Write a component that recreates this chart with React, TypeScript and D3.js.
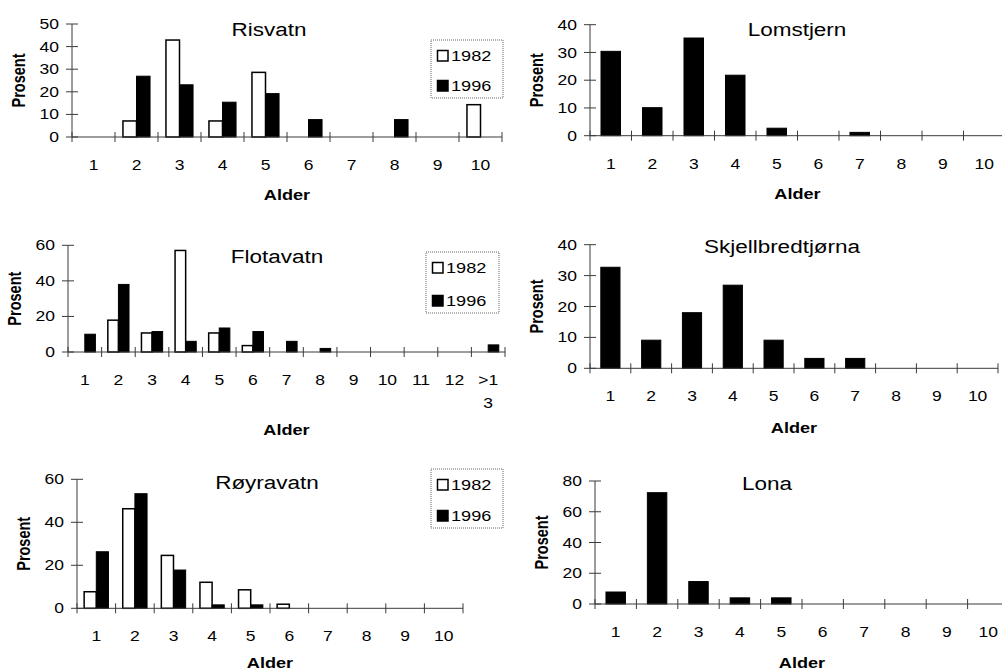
import React from "react";
import * as d3 from "d3";

// ---------- data ----------
const agesRisvatn = ["1", "2", "3", "4", "5", "6", "7", "8", "9", "10"];
const risvatn1982 = [0, 7.1, 42.9, 7.1, 28.6, 0, 0, 0, 0, 14.3];
const risvatn1996 = [0, 26.9, 23.1, 15.4, 19.2, 7.7, 0, 7.7, 0, 0];

const agesLomstjern = ["1", "2", "3", "4", "5", "6", "7", "8", "9", "10"];
const lomstjern = [30.4, 10.1, 35.2, 21.8, 2.7, 0, 1.2, 0, 0, 0];

const agesFlotavatn = ["1", "2", "3", "4", "5", "6", "7", "8", "9", "10", "11", "12", ">1|3"];
const flotavatn1982 = [0, 17.9, 10.7, 57.1, 10.7, 3.6, 0, 0, 0, 0, 0, 0, 0];
const flotavatn1996 = [10, 38, 11.5, 6, 13.5, 11.5, 6, 2, 0, 0, 0, 0, 4];

const agesSkjell = ["1", "2", "3", "4", "5", "6", "7", "8", "9", "10"];
const skjellbredtjorna = [32.7, 9.1, 18, 26.9, 9.1, 3.2, 3.2, 0, 0, 0];

const agesRoyra = ["1", "2", "3", "4", "5", "6", "7", "8", "9", "10"];
const royravatn1982 = [7.7, 46.3, 24.6, 12.1, 8.6, 1.9, 0, 0, 0, 0];
const royravatn1996 = [26.3, 53.3, 17.8, 1.6, 1.6, 0, 0, 0, 0, 0];

const agesLona = ["1", "2", "3", "4", "5", "6", "7", "8", "9", "10"];
const lona = [7.8, 72.4, 14.6, 4, 4, 0, 0, 0, 0, 0];

const yTicks50 = [0, 10, 20, 30, 40, 50];
const yTicks40 = [0, 10, 20, 30, 40];
const yTicks60 = [0, 20, 40, 60];
const yTicks80 = [0, 20, 40, 60, 80];

const seriesNames = ["1982", "1996"];

// ---------- layout ----------
type Panel = {
  title: string;
  cats: string[];
  s1982: number[] | null;
  s1996: number[];
  ticks: number[];
  x0: number; x1: number; yTop: number; yBot: number;
  titleX: number; titleY: number;
  alderY: number;
  legend: { x: number; y: number; w: number; h: number } | null;
};

const panels: Panel[] = [
  { title: "Risvatn", cats: agesRisvatn, s1982: risvatn1982, s1996: risvatn1996, ticks: yTicks50,
    x0: 72, x1: 502, yTop: 24, yBot: 137, titleX: 269, titleY: 36, alderY: 200,
    legend: { x: 431, y: 40, w: 72, h: 58 } },
  { title: "Lomstjern", cats: agesLomstjern, s1982: null, s1996: lomstjern, ticks: yTicks40,
    x0: 590, x1: 1005, yTop: 24.7, yBot: 135.7, titleX: 797, titleY: 36, alderY: 199, legend: null },
  { title: "Flotavatn", cats: agesFlotavatn, s1982: flotavatn1982, s1996: flotavatn1996, ticks: yTicks60,
    x0: 68, x1: 505, yTop: 245.3, yBot: 352, titleX: 277, titleY: 263, alderY: 435,
    legend: { x: 426, y: 252, w: 73, h: 61 } },
  { title: "Skjellbredtjørna", cats: agesSkjell, s1982: null, s1996: skjellbredtjorna, ticks: yTicks40,
    x0: 590, x1: 998, yTop: 244.7, yBot: 368.3, titleX: 782, titleY: 253, alderY: 433, legend: null },
  { title: "Røyravatn", cats: agesRoyra, s1982: royravatn1982, s1996: royravatn1996, ticks: yTicks60,
    x0: 77, x1: 463, yTop: 479.3, yBot: 608.3, titleX: 267, titleY: 489, alderY: 668,
    legend: { x: 431, y: 469, w: 72, h: 59 } },
  { title: "Lona", cats: agesLona, s1982: null, s1996: lona, ticks: yTicks80,
    x0: 595, x1: 1009, yTop: 481, yBot: 604, titleX: 767, titleY: 490, alderY: 668, legend: null },
];

const FONT = "'Liberation Sans', Arial, Helvetica, sans-serif";
const SX = 1.25;

function T(props: { x: number; y: number; size: number; anchor?: string; bold?: boolean; rotate?: boolean; children: React.ReactNode; dy?: string }) {
  const { x, y, size, anchor = "middle", bold, rotate, children, dy } = props;
  const tf = rotate ? `translate(${x},${y}) rotate(-90) scale(1,${SX})` : `translate(${x},${y}) scale(${SX},1)`;
  return (
    <text transform={tf} fontSize={size} fontFamily={FONT} fontWeight={bold ? "bold" : "normal"}
      textAnchor={anchor} dy={dy} fill="#000">{children}</text>
  );
}

function Chart({ p }: { p: Panel }) {
  const x = d3.scaleBand<string>().domain(p.cats).range([p.x0, p.x1]).padding(0);
  const yMax = p.ticks[p.ticks.length - 1];
  const y = d3.scaleLinear().domain([0, yMax]).range([p.yBot, p.yTop]);
  const bw = x.bandwidth();
  const grouped = p.s1982 !== null;
  const groupW = bw * (grouped ? 0.63 : 0.47);
  const xs = d3.scaleBand<string>().domain(grouped ? seriesNames : ["1996"]).range([0, groupW]);
  const axisColor = "#3a3a3a";
  const boundaries = d3.range(p.cats.length + 1).map((i) => p.x0 + i * bw);

  const bars: React.ReactNode[] = [];
  p.cats.forEach((c, i) => {
    const gx = (x(c) as number) + (bw - groupW) / 2;
    const series: [string, number[] | null][] = [["1982", p.s1982], ["1996", p.s1996]];
    series.forEach(([name, arr]) => {
      if (!arr) return;
      const v = arr[i];
      if (!v) return;
      const bx = gx + (xs(name) as number);
      const white = name === "1982";
      bars.push(
        <rect key={name + c} x={bx} y={y(v)} width={xs.bandwidth()} height={p.yBot - y(v)}
          fill={white ? "#fff" : "#000"} stroke="#000" strokeWidth={white ? 1.5 : 1} />
      );
    });
  });

  const midX = (p.x0 + p.x1) / 2;
  const midY = (p.yTop + p.yBot) / 2;

  return (
    <g>
      {/* y axis */}
      <line x1={p.x0} x2={p.x0} y1={p.yTop} y2={p.yBot} stroke={axisColor} strokeWidth={1} />
      {p.ticks.map((t) => (
        <g key={"yt" + t}>
          <line x1={p.x0 - 6} x2={p.x0 + 6} y1={y(t)} y2={y(t)} stroke={axisColor} strokeWidth={1} />
          <T x={p.x0 - 13} y={y(t)} size={14} anchor="end" dy="0.36em">{t}</T>
        </g>
      ))}
      {bars}
      {/* x axis */}
      <line x1={p.x0} x2={p.x1} y1={p.yBot} y2={p.yBot} stroke={axisColor} strokeWidth={1} />
      {boundaries.map((bx, i) => (
        <line key={"xt" + i} x1={bx} x2={bx} y1={p.yBot - 5} y2={p.yBot + 5} stroke={axisColor} strokeWidth={1} />
      ))}
      {p.cats.map((c) => {
        const cx = (x(c) as number) + bw / 2;
        const parts = c.split("|");
        return (
          <g key={"xl" + c}>
            {parts.map((part, k) => (
              <T key={k} x={cx} y={p.yBot + 33 + k * 23} size={14}>{part}</T>
            ))}
          </g>
        );
      })}
      <T x={p.titleX} y={p.titleY} size={18}>{p.title}</T>
      <T x={midX} y={p.alderY} size={14.5} bold>Alder</T>
      <T x={p.x0 - 53} y={midY} size={14.5} bold rotate dy="0.35em">Prosent</T>
      {p.legend && (
        <g>
          <rect x={p.legend.x} y={p.legend.y} width={p.legend.w} height={p.legend.h}
            fill="#fff" stroke="#666" strokeWidth={1} strokeDasharray="1,1" />
          {seriesNames.map((name, k) => {
            const ry = p.legend!.y + 10 + k * (p.legend!.h - 28);
            return (
              <g key={"lg" + name}>
                <rect x={p.legend!.x + 6.5} y={ry + 0.5} width={10.5} height={10.5}
                  fill={name === "1982" ? "#fff" : "#000"} stroke="#000" strokeWidth={1.5} />
                <T x={p.legend!.x + 20} y={ry + 11} size={14.5} anchor="start">{name}</T>
              </g>
            );
          })}
        </g>
      )}
    </g>
  );
}

export default function App() {
  return (
    <svg width={1002} height={671} style={{ position: "absolute", left: 0, top: 0, background: "#fff" }}>
      <rect x={0} y={0} width={1002} height={671} fill="#fff" />
      {panels.map((p) => <Chart key={p.title} p={p} />)}
    </svg>
  );
}
